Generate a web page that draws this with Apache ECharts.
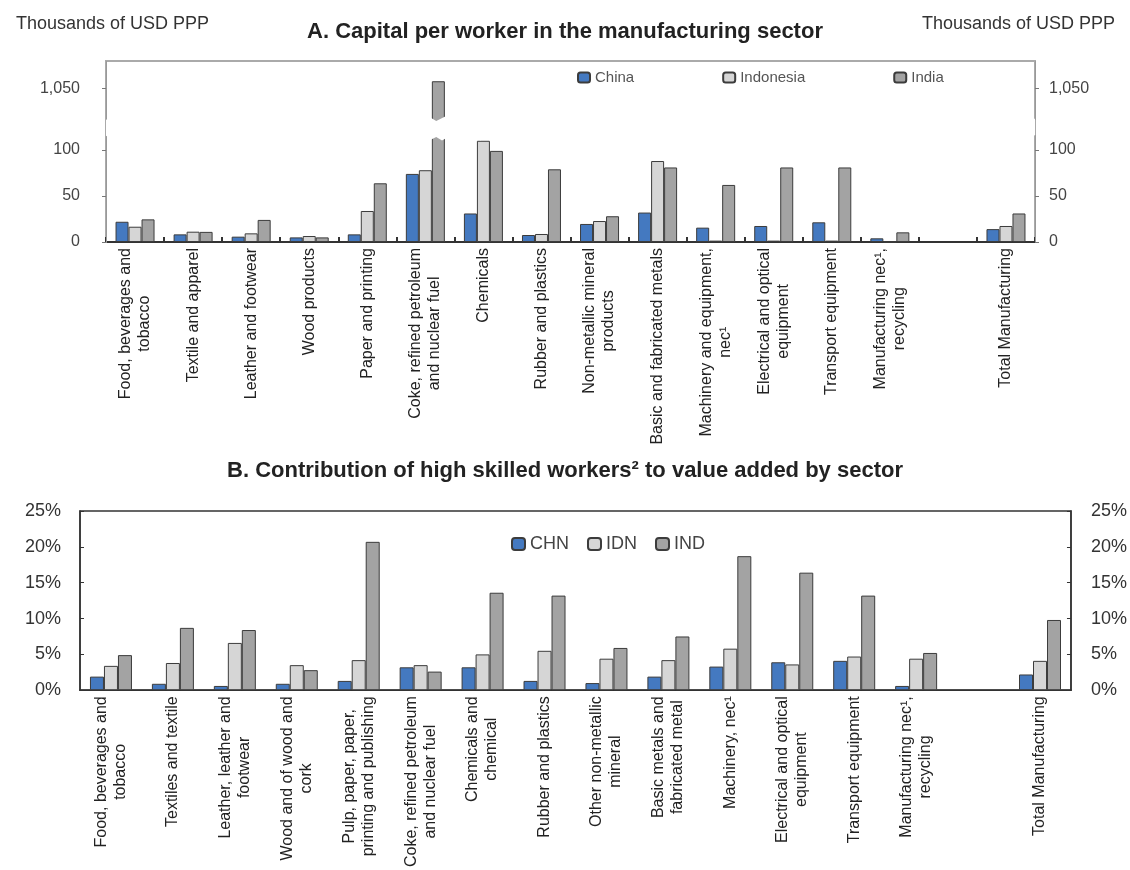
<!DOCTYPE html>
<html>
<head>
<meta charset="utf-8">
<title>Capital per worker / high skilled workers</title>
<script src="https://cdn.jsdelivr.net/npm/echarts@6.0.0/dist/echarts.min.js"></script>
<style>
html, body { margin: 0; padding: 0; background: #fff; }
#chart { width: 1130px; height: 870px; }
</style>
</head>
<body>
<div id="chart"></div>
<script>
// panel A: capital per worker, thousands of USD PPP
const sectorsA = [
  'Food, beverages and\ntobacco', 'Textile and apparel', 'Leather and footwear', 'Wood products',
  'Paper and printing', 'Coke, refined petroleum\nand nuclear fuel', 'Chemicals', 'Rubber and plastics',
  'Non-metallic mineral\nproducts', 'Basic and fabricated metals', 'Machinery and equipment,\nnec¹',
  'Electrical and optical\nequipment', 'Transport equipment', 'Manufacturing nec¹,\nrecycling', '',
  'Total Manufacturing'
]
const china = [22, 8.3, 5.8, 5, 8.3, 74, 31, 7.6, 19.6, 32, 15.6, 17.4, 21.4, 4, null, 14]
const indonesia = [16.6, 11.2, 9.4, 6.5, 33.7, 78, 110, 8.7, 22.8, 88, 1.5, 1.5, 1.5, 0, null, 17.4]
const india = [24.6, 11, 24, 5, 63.8, 1058, 99, 79, 28, 81, 62, 81, 81, 10.5, null, 31]
const ticksA = [0, 50, 100, 1050]

// panel B: contribution of high skilled workers to value added, %
const sectorsB = [
  'Food, beverages and\ntobacco', 'Textiles and textile', 'Leather, leather and\nfootwear',
  'Wood and of wood and\ncork', 'Pulp, paper, paper,\nprinting and publishing',
  'Coke, refined petroleum\nand nuclear fuel', 'Chemicals and\nchemical', 'Rubber and plastics',
  'Other non-metallic\nmineral', 'Basic metals and\nfabricated metal', 'Machinery, nec¹',
  'Electrical and optical\nequipment', 'Transport equipment', 'Manufacturing nec¹,\nrecycling', '',
  'Total Manufacturing'
]
const chn = [1.9, 0.9, 0.6, 0.9, 1.3, 3.2, 3.2, 1.3, 1.0, 1.9, 3.3, 3.9, 4.1, 0.6, null, 2.2]
const idn = [3.4, 3.8, 6.6, 3.5, 4.2, 3.5, 5.0, 5.5, 4.4, 4.2, 5.8, 3.6, 4.7, 4.4, null, 4.1]
const ind = [4.9, 8.7, 8.4, 2.8, 20.7, 2.6, 13.6, 13.2, 5.9, 7.5, 18.7, 16.4, 13.2, 5.2, null, 9.8]

const FONT = '"Liberation Sans", Arial, sans-serif'
const BLUE = '#4479c0'
const LIGHT = '#d6d6d6'
const DARK = '#a3a3a3'
const EDGE = '#3c3c3c'

// each line of a rotated label centred inside its block
function centerLines(value) {
  if (!value) return ''
  return value.split('\n').map(s => '{c|' + s + '}').join('\n')
}

function catLabel() {
  return {
    interval: 0,
    rotate: 90,
    margin: 6,
    fontFamily: FONT,
    fontSize: 16,
    color: '#222',
    formatter: centerLines,
    rich: {
      c: { align: 'center', fontFamily: FONT, fontSize: 16, lineHeight: 19, color: '#222' }
    }
  }
}

// y axis of panel A, broken between ~116 and ~1017
function breakAxis(position) {
  return {
    type: 'value',
    gridIndex: 0,
    position: position,
    z: 5,
    min: 0,
    max: 1080,
    breaks: [{ start: 116, end: 1017, gap: '9%' }],
    breakArea: {
      show: true,
      expandOnClick: false,
      zigzagAmplitude: 5,
      itemStyle: { color: '#fff', borderColor: 'rgba(0,0,0,0)', borderWidth: 0, opacity: 1 }
    },
    splitLine: { show: false },
    axisLine: { show: true, lineStyle: { color: '#999', width: 1 } },
    axisTick: { show: true, length: 4, customValues: ticksA, lineStyle: { color: '#777' } },
    axisLabel: {
      customValues: ticksA,
      margin: position === 'left' ? 26 : 14,
      fontFamily: FONT,
      fontSize: 16,
      color: '#444',
      formatter: v => v.toLocaleString('en-US')
    }
  }
}

function pctAxis(position) {
  return {
    type: 'value',
    gridIndex: 1,
    position: position,
    min: 0,
    max: 25,
    interval: 5,
    splitLine: { show: false },
    axisLine: { show: true, lineStyle: { color: '#333', width: 1.5 } },
    axisTick: { show: true, inside: true, length: 4, lineStyle: { color: '#333' } },
    axisLabel: {
      margin: position === 'left' ? 19 : 20,
      fontFamily: FONT,
      fontSize: 18,
      color: '#333',
      formatter: v => v + '%'
    }
  }
}

function bars(name, data, color, xi, yi, width) {
  return {
    name: name,
    type: 'bar',
    xAxisIndex: xi,
    yAxisIndex: yi,
    data: data,
    barWidth: width,
    barGap: '0%',
    itemStyle: { color: color, borderColor: EDGE, borderWidth: 1 }
  }
}

const chart = echarts.init(document.getElementById('chart'))
chart.setOption({
  animation: false,
  backgroundColor: '#fff',
  textStyle: { fontFamily: FONT },
  title: [
    {
      text: 'A. Capital per worker in the manufacturing sector',
      left: 'center', top: 16,
      textStyle: { fontFamily: FONT, fontSize: 22, fontWeight: 'bold', color: '#222' }
    },
    {
      text: 'Thousands of USD PPP', left: 11, top: 10,
      textStyle: { fontFamily: FONT, fontSize: 18, fontWeight: 'normal', color: '#333' }
    },
    {
      text: 'Thousands of USD PPP', right: 10, top: 10,
      textStyle: { fontFamily: FONT, fontSize: 18, fontWeight: 'normal', color: '#333' }
    },
    {
      text: 'B. Contribution of high skilled workers² to value added by sector',
      left: 'center', top: 455,
      textStyle: { fontFamily: FONT, fontSize: 22, fontWeight: 'bold', color: '#222' }
    }
  ],
  legend: [
    {
      data: ['China', 'Indonesia', 'India'],
      left: 572, top: 65,
      itemWidth: 12, itemHeight: 10, itemGap: 88,
      selectedMode: false,
      textStyle: { fontFamily: FONT, fontSize: 15, color: '#555' }
    },
    {
      data: ['CHN', 'IDN', 'IND'],
      left: 506, top: 530,
      itemWidth: 13, itemHeight: 12, itemGap: 18,
      selectedMode: false,
      textStyle: { fontFamily: FONT, fontSize: 18, color: '#444' }
    }
  ],
  grid: [
    { left: 106, right: 95, top: 61, height: 181, show: true, borderColor: '#aaa', borderWidth: 2 },
    { left: 80, right: 59, top: 511, height: 182, show: true, borderColor: '#333', borderWidth: 1.5 }
  ],
  xAxis: [
    {
      type: 'category', gridIndex: 0, data: sectorsA,
      axisLine: { lineStyle: { color: '#333', width: 2 } },
      axisTick: { show: true, inside: true, length: 5, lineStyle: { color: '#333', width: 2 } },
      axisLabel: catLabel()
    },
    {
      type: 'category', gridIndex: 1, data: sectorsB,
      axisLine: { lineStyle: { color: '#333', width: 1.5 } },
      axisTick: { show: false },
      axisLabel: catLabel()
    }
  ],
  yAxis: [
    breakAxis('left'),
    breakAxis('right'),
    pctAxis('left'),
    pctAxis('right')
  ],
  series: [
    bars('China', china, BLUE, 0, 0, 13),
    bars('Indonesia', indonesia, LIGHT, 0, 0, 13),
    bars('India', india, DARK, 0, 0, 13),
    bars('CHN', chn, BLUE, 1, 2, 14),
    bars('IDN', idn, LIGHT, 1, 2, 14),
    bars('IND', ind, DARK, 1, 2, 14)
  ]
})
</script>
</body>
</html>
